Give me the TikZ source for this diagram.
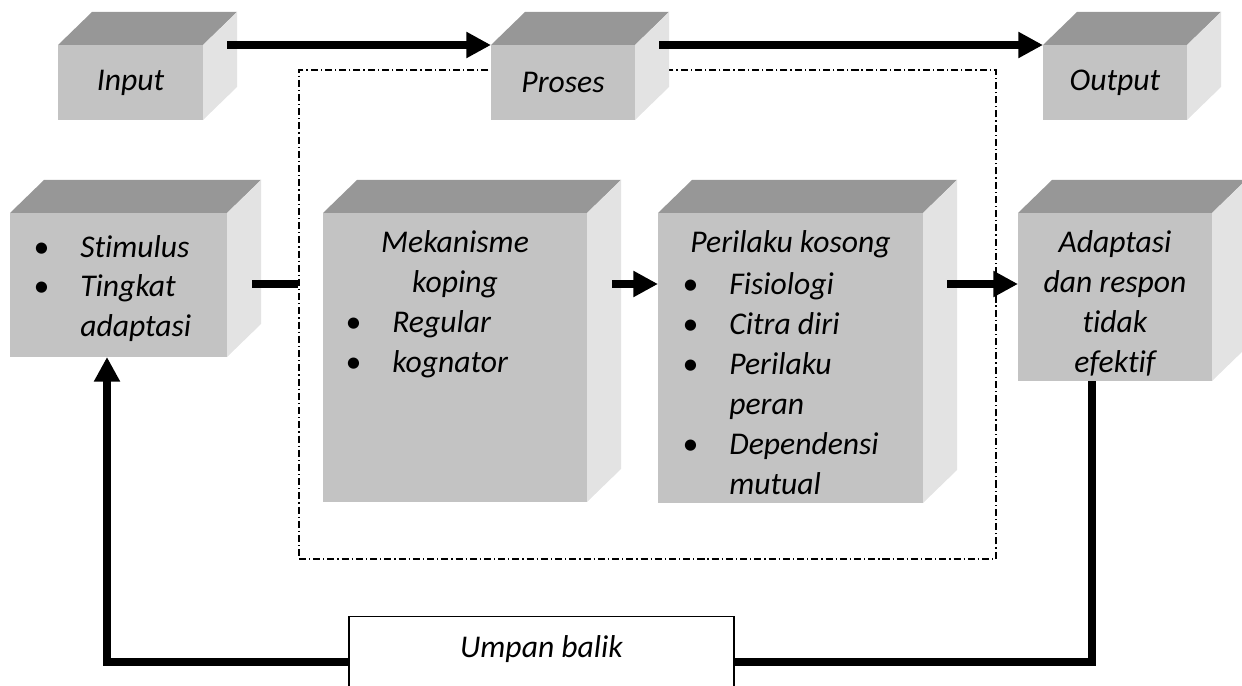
\documentclass[tikz,border=0pt]{standalone}
\usepackage{fontspec}
\setmainfont{Carlito}[Ligatures=NoCommon]
\usepackage{xcolor}
\usetikzlibrary{arrows.meta, calc}
\definecolor{MukaAbu}{RGB}{195,195,195}
\definecolor{AtasAbu}{RGB}{151,151,151}
\definecolor{KananAbu}{RGB}{227,227,227}
\newlength{\px}\setlength{\px}{0.02cm}
\newcommand{\teks}{\fontsize{18}{22.76}\selectfont\itshape}
% sisi atas dan sisi kanan sebuah kubus
\newcommand{\sisikubus}[1]{%
  \fill[AtasAbu] (#1.north west) -- ++(34,-33) -- ([shift={(34,-33)}]#1.north east) -- (#1.north east) -- cycle;
  \fill[KananAbu] (#1.north east) -- ([shift={(34,-33)}]#1.north east) -- ([shift={(34,-33)}]#1.south east) -- (#1.south east) -- cycle;}

\begin{document}
\begin{tikzpicture}[x=0.02cm, y=-0.02cm,
    muka/.style={fill=MukaAbu, inner sep=0, outer sep=0, font=\teks},
    isi/.style={inner sep=0, font=\teks},
    panah/.style={-{Triangle[length=14pt, width=14pt]}, line width=4pt},
    garis/.style={line width=4pt},
    batas/.style={draw, line width=0.8pt, dash pattern=on 4pt off 1.7pt on 0.7pt off 1.7pt}]
  \useasboundingbox (0,0) rectangle (1242,686);

  % Batas proses
  \node[batas, minimum width=697\px, minimum height=489\px] (sistem) at (647.5,314.5) {};

  % Baris atas
  \node[muka, minimum width=145\px, minimum height=75\px] (input) at (130.5,82.5) {Input};
  \sisikubus{input}
  \node[muka, minimum width=144\px, minimum height=75\px] (proses) at (563,82.5) {Proses};
  \sisikubus{proses}
  \node[muka, minimum width=144\px, minimum height=75\px] (output) at (1115,82.5) {Output};
  \sisikubus{output}

  % Baris tengah
  \node[muka, minimum width=217\px, minimum height=144\px] (stim) at (118.5,285) {};
  \sisikubus{stim}
  \node[muka, minimum width=264\px, minimum height=289\px] (meka) at (455,357.5) {};
  \sisikubus{meka}
  \node[muka, minimum width=265\px, minimum height=290\px] (peri) at (790.5,358) {};
  \sisikubus{peri}
  \node[muka, minimum width=194\px, minimum height=168\px] (adapt) at (1115,297) {};
  \sisikubus{adapt}

  \node[isi, anchor=base west] (stimteks) at (33,257) {\begin{tabular}[t]{@{}p{47\px}@{}l@{}}
    \textbullet & Stimulus\\ \textbullet & Tingkat\\ & adaptasi\end{tabular}};
  \node[isi, anchor=base] (mekajudul) at (455,253) {\begin{tabular}[t]{@{}c@{}}Mekanisme\\ koping\end{tabular}};
  \node[isi, anchor=base west] (mekaisi) at (345,333) {\begin{tabular}[t]{@{}p{47\px}@{}l@{}}
    \textbullet & Regular\\ \textbullet & kognator\end{tabular}};
  \node[isi, anchor=base] (perijudul) at (790.5,253) {Perilaku kosong};
  \node[isi, anchor=base west] (periisi) at (682,295) {\begin{tabular}[t]{@{}p{47\px}@{}l@{}}
    \textbullet & Fisiologi\\ \textbullet & Citra diri\\ \textbullet & Perilaku\\ & peran\\
    \textbullet & Dependensi\\ & mutual\end{tabular}};
  \node[isi, anchor=base] (adaptteks) at (1115,253) {\begin{tabular}[t]{@{}c@{}}Adaptasi\\ dan respon\\ tidak\\ efektif\end{tabular}};

  % Panah
  \draw[panah] ($(input.north east)+(24,0)$) -- (proses.north west);
  \draw[panah] ($(proses.north east)+(24,0)$) -- (output.north west);
  \coordinate (baris) at (0,284);
  \draw[garis] ($(stim.east |- baris)+(25,0)$) -- (sistem.west |- baris);
  \draw[panah] ($(meka.east |- baris)+(25,0)$) -- (peri.west |- baris);
  \draw[panah] ($(peri.east |- baris)+(24,0)$) -- (adapt.west |- baris);

  % Umpan balik
  \coordinate (ka) at ($(adapt.south)+(-23,0)$);
  \coordinate (ki) at ($(stim.south)+(-11.5,0)$);
  \coordinate (dasar) at (0,662);
  \draw[panah] (ka) -- (ka |- dasar) -- (ki |- dasar) -- (ki);
  \node[draw, fill=white, line width=0.8pt, font=\teks, inner ysep=0, text height=41\px, text depth=70\px,
    minimum width=385\px, anchor=north] (umpan) at (541.5,616) {Umpan balik};
\end{tikzpicture}
\end{document}
